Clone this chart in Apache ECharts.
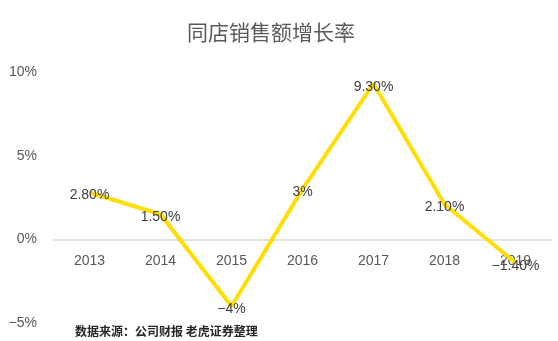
<!DOCTYPE html>
<html><head><meta charset="utf-8">
<script src="https://cdn.jsdelivr.net/npm/echarts@6/dist/echarts.min.js"></script>
<style>html,body{margin:0;padding:0;background:#fff}#c{width:558px;height:341px}</style>
</head><body><div id="c"></div>
<script>
var categories = ['2013','2014','2015','2016','2017','2018','2019'];
var growth = [2.8, 1.5, -4, 3, 9.3, 2.1, -1.4];
var pointLabels = ['2.80%','1.50%','\u22124%','3%','9.30%','2.10%','\u22121.40%'];
var yTickLabels = {'-5':'\u22125%','0':'0%','5':'5%','10':'10%'};
var titleText = '同店销售额增长率';
var sourceText = '数据来源：公司财报 老虎证券整理';

var ff = '"Liberation Sans", "Noto Sans CJK SC", sans-serif';
var gridTop = 72, gridBottom = 18, H = 341, yMin = -5, yMax = 10;
var zeroFromBottom = (H - gridTop - gridBottom) * (0 - yMin) / (yMax - yMin);
var chart = echarts.init(document.getElementById('c'), null, {renderer:'canvas'});
chart.setOption({
  animation:false,
  backgroundColor:'#fff',
  title:{text:titleText,left:182,top:17,textStyle:{fontFamily:'"Noto Sans CJK SC", sans-serif',fontSize:21,fontWeight:'normal',color:'#595959'}},
  graphic:[{type:'text',left:75,top:325,style:{text:sourceText,fontFamily:'"Noto Sans CJK SC", sans-serif',fontSize:12,fontWeight:'bold',fill:'#262626'}}],
  grid:{left:54,right:7,top:gridTop,bottom:gridBottom,containLabel:false,outerBoundsMode:'none'},
  xAxis:{type:'category',data:categories,boundaryGap:true,position:'bottom',offset:-zeroFromBottom,
    axisLine:{onZero:false,lineStyle:{color:'#d9d9d9',width:1.5}},axisTick:{show:false},
    axisLabel:{margin:15,fontFamily:ff,fontSize:14,color:'#595959'}},
  yAxis:{type:'value',min:yMin,max:yMax,interval:5,
    axisLine:{show:false},axisTick:{show:false},splitLine:{show:false},
    axisLabel:{margin:17,fontFamily:ff,fontSize:14,color:'#595959',formatter:function(v){return yTickLabels[String(v)];}}},
  series:[{type:'line',data:growth,symbol:'circle',symbolSize:0,showSymbol:true,z:3,
    lineStyle:{color:'#ffde00',width:4},
    itemStyle:{color:'#ffde00'},
    label:{show:true,position:'top',distance:-10,fontFamily:ff,fontSize:14,color:'#404040',
      formatter:function(p){return pointLabels[p.dataIndex];}}}]
});
</script></body></html>
